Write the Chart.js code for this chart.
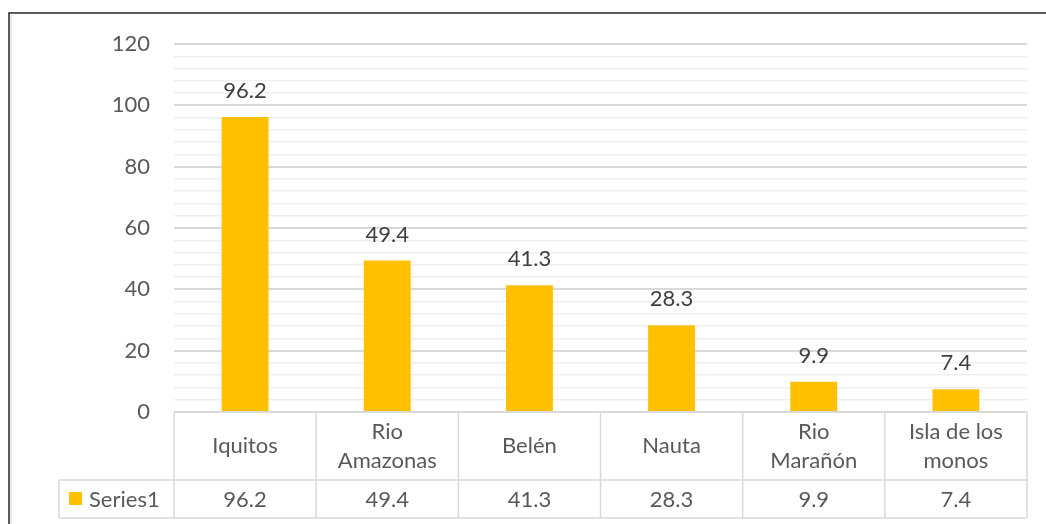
<!DOCTYPE html>
<html>
<head>
<meta charset="utf-8">
<script src="https://cdn.jsdelivr.net/npm/chart.js@4/dist/chart.umd.min.js"></script>
<style>
  html, body { margin: 0; padding: 0; background: #ffffff; }
  #wrap { position: relative; width: 1046px; height: 524px; }
</style>
</head>
<body>
<div id="wrap"><canvas id="c" width="1046" height="524"></canvas></div>
<script>
// Data
const categories = [['Iquitos'], ['Rio', 'Amazonas'], ['Belén'], ['Nauta'], ['Rio', 'Marañón'], ['Isla de los', 'monos']];
const seriesName = 'Series1';
const seriesValues = [96.2, 49.4, 41.3, 28.3, 9.9, 7.4];
const yTicks = [0, 20, 40, 60, 80, 100, 120];

const FONT = 'Lato, "Open Sans", "Liberation Sans", sans-serif';
const FONT_SIZE = 22;
const BAR = '#FFC000';
const TEXT = '#404040';
const AXIS_TEXT = '#595959';
const LINE = '#d9d9d9';

// Outer frame of the chart object
const framePlugin = {
  id: 'frame',
  beforeDraw(chart) {
    const ctx = chart.ctx;
    ctx.save();
    ctx.fillStyle = '#ffffff';
    ctx.fillRect(0, 0, chart.width, chart.height);
    ctx.strokeStyle = '#262626';
    ctx.lineWidth = 1.5;
    ctx.beginPath();
    ctx.moveTo(9, chart.height);
    ctx.lineTo(9, 13);
    ctx.lineTo(chart.width, 13);
    ctx.stroke();
    ctx.strokeStyle = '#d0d0d0';
    ctx.lineWidth = 1;
    ctx.beginPath();
    ctx.moveTo(11, chart.height);
    ctx.lineTo(11, 15);
    ctx.stroke();
    ctx.restore();
  }
};

// Value labels above each bar
const valueLabelPlugin = {
  id: 'valueLabels',
  afterDatasetsDraw(chart) {
    const ctx = chart.ctx;
    const meta = chart.getDatasetMeta(0);
    ctx.save();
    ctx.font = FONT_SIZE + 'px ' + FONT;
    ctx.fillStyle = TEXT;
    ctx.textAlign = 'center';
    ctx.textBaseline = 'bottom';
    meta.data.forEach((bar, i) => {
      ctx.fillText(seriesValues[i].toFixed(1), bar.x, bar.y - 15);
    });
    ctx.restore();
  }
};

// Data table under the plot: category row, then the series row with legend key
const dataTablePlugin = {
  id: 'dataTable',
  afterDraw(chart) {
    const ctx = chart.ctx;
    const area = chart.chartArea;
    const xs = chart.scales.x;
    const n = categories.length;
    const colW = (area.right - area.left) / n;
    const top = area.bottom;
    const mid = 480;
    const bottom = 518;
    const legendLeft = 59;

    ctx.save();
    ctx.strokeStyle = LINE;
    ctx.lineWidth = 1.5;
    ctx.beginPath();
    // horizontal rules
    ctx.moveTo(area.left, top); ctx.lineTo(area.right, top);
    ctx.moveTo(legendLeft, mid); ctx.lineTo(area.right, mid);
    ctx.moveTo(legendLeft, bottom); ctx.lineTo(area.right, bottom);
    // vertical rules
    for (let i = 0; i <= n; i++) {
      const x = area.left + i * colW;
      ctx.moveTo(x, top); ctx.lineTo(x, bottom);
    }
    ctx.moveTo(legendLeft, mid); ctx.lineTo(legendLeft, bottom);
    ctx.stroke();

    ctx.font = FONT_SIZE + 'px ' + FONT;
    ctx.fillStyle = AXIS_TEXT;
    ctx.textAlign = 'center';
    ctx.textBaseline = 'middle';
    const lineH = 29;
    categories.forEach((lines, i) => {
      const cx = xs.getPixelForValue(i);
      const cy = (top + mid) / 2;
      const startY = cy - (lines.length - 1) * lineH / 2;
      lines.forEach((t, j) => ctx.fillText(t, cx, startY + j * lineH));
      ctx.fillText(seriesValues[i].toFixed(1), cx, (mid + bottom) / 2 + 1);
    });

    // legend key and series name
    ctx.fillStyle = BAR;
    ctx.fillRect(69, 492, 13, 13);
    ctx.fillStyle = AXIS_TEXT;
    ctx.textAlign = 'left';
    ctx.fillText(seriesName, 89, (mid + bottom) / 2 + 1);
    ctx.restore();
  }
};

new Chart(document.getElementById('c'), {
  type: 'bar',
  data: {
    labels: categories,
    datasets: [{
      label: seriesName,
      data: seriesValues,
      backgroundColor: BAR,
      borderWidth: 0,
      categoryPercentage: 1,
      barPercentage: 0.33
    }]
  },
  options: {
    responsive: false,
    animation: false,
    devicePixelRatio: 1,
    layout: { padding: { left: 0, right: 19, top: 44, bottom: 112 } },
    plugins: {
      legend: { display: false },
      tooltip: { enabled: false }
    },
    scales: {
      x: {
        ticks: { display: false },
        grid: { display: false, drawTicks: false },
        border: { display: false }
      },
      y: {
        min: 0,
        max: 120,
        afterFit(scale) { scale.width = 174; },
        afterBuildTicks(scale) {
          // major steps of 20 with four minor divisions between them
          const t = [];
          for (let v = 0; v <= 120; v += 4) t.push({ value: v });
          scale.ticks = t;
        },
        ticks: {
          autoSkip: false,
          padding: 24,
          color: AXIS_TEXT,
          font: { family: FONT, size: FONT_SIZE },
          callback: (v) => (yTicks.includes(v) ? String(v) : '')
        },
        grid: {
          drawTicks: false,
          color: (c) => (c.tick && c.tick.value % 20 === 0 ? LINE : '#efefef'),
          lineWidth: (c) => (c.tick && c.tick.value % 20 === 0 ? 2 : 1.5)
        },
        border: { display: false }
      }
    }
  },
  plugins: [framePlugin, valueLabelPlugin, dataTablePlugin]
});
</script>
</body>
</html>
